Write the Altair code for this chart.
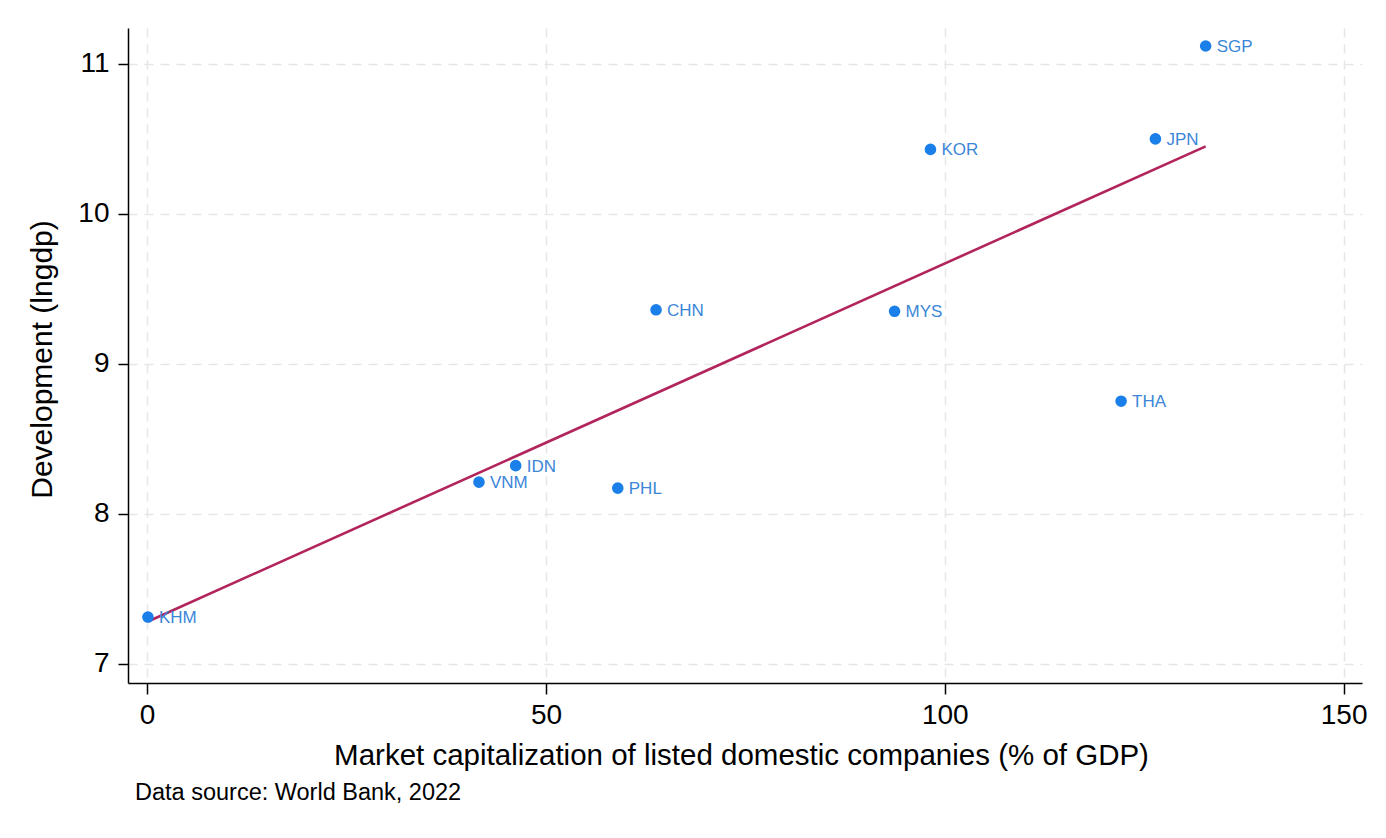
import altair as alt
import pandas as pd

countries = ["SGP", "JPN", "KOR", "CHN", "MYS", "THA", "IDN", "VNM", "PHL", "KHM"]
market_cap = [132.7, 126.4, 98.2, 63.8, 93.7, 122.1, 46.2, 41.6, 59.0, 0.1]
lngdp = [11.12, 10.50, 10.43, 9.36, 9.35, 8.75, 8.32, 8.21, 8.17, 7.31]
x_ticks = [0, 50, 100, 150]
y_ticks = [7, 8, 9, 10, 11]
source_note = ["Data source: World Bank, 2022"]

df = pd.DataFrame({"country": countries, "mcap": market_cap, "lngdp": lngdp})
note_df = pd.DataFrame({"note": source_note})

FONT = "Liberation Sans"
W, H = 1234, 655

xscale = alt.Scale(domain=[-2.4, 152.3], nice=False, zero=False)
yscale = alt.Scale(domain=[6.87, 11.24], nice=False, zero=False)

xaxis = alt.Axis(
    values=x_ticks, format="d", title="Market capitalization of listed domestic companies (% of GDP)",
    grid=True, gridColor="#e6e6e6", gridDash=[9, 7], gridWidth=1.5,
    domainColor="#000000", domainWidth=1.5, tickColor="#000000", tickWidth=1.5,
    tickSize=11, labelFontSize=28, labelFont=FONT, labelColor="#000000", labelPadding=7,
    titleFont=FONT, titleFontSize=29.5, titleFontWeight="normal", titleColor="#000000",
    titleX=613, titleY=72, titleBaseline="middle", titleAnchor="middle", titleAlign="center",
)
yaxis = alt.Axis(
    values=y_ticks, format="d", title="Development (lngdp)",
    grid=True, gridColor="#e6e6e6", gridDash=[9, 7], gridWidth=1.5,
    domainColor="#000000", domainWidth=1.5, tickColor="#000000", tickWidth=1.5,
    tickSize=10, labelFontSize=28, labelFont=FONT, labelColor="#000000", labelPadding=9,
    titleFont=FONT, titleFontSize=30, titleFontWeight="normal", titleColor="#000000",
    titleX=-86, titleY=331, titleBaseline="middle", titleAlign="center",
)

base = alt.Chart(df)

fit = base.transform_regression("mcap", "lngdp").mark_line(
    color="#b2245c", strokeWidth=2.6
).encode(
    x=alt.X("mcap:Q", scale=xscale, axis=xaxis),
    y=alt.Y("lngdp:Q", scale=yscale, axis=yaxis),
)

points = base.mark_circle(size=135, color="#1a7fe8", opacity=1).encode(
    x=alt.X("mcap:Q", scale=xscale),
    y=alt.Y("lngdp:Q", scale=yscale),
)

labels = base.mark_text(
    align="left", baseline="middle", dx=11, dy=1, fontSize=17, font=FONT, color="#3c86d8"
).encode(
    x=alt.X("mcap:Q", scale=xscale),
    y=alt.Y("lngdp:Q", scale=yscale),
    text="country:N",
)

note = alt.Chart(note_df).mark_text(
    align="left", baseline="alphabetic", fontSize=23.5, font=FONT, color="#000000"
).encode(
    x=alt.value(7), y=alt.value(772), text="note:N"
)

chart = alt.layer(fit, points, labels, note).properties(
    width=W, height=H,
    autosize=alt.AutoSizeParams(type="none"),
    padding={"left": 120, "top": 20, "right": 16, "bottom": 140},
    background="#ffffff",
).configure_view(stroke=None)

chart.save("out.html", embed_options={"renderer": "svg", "actions": False})
